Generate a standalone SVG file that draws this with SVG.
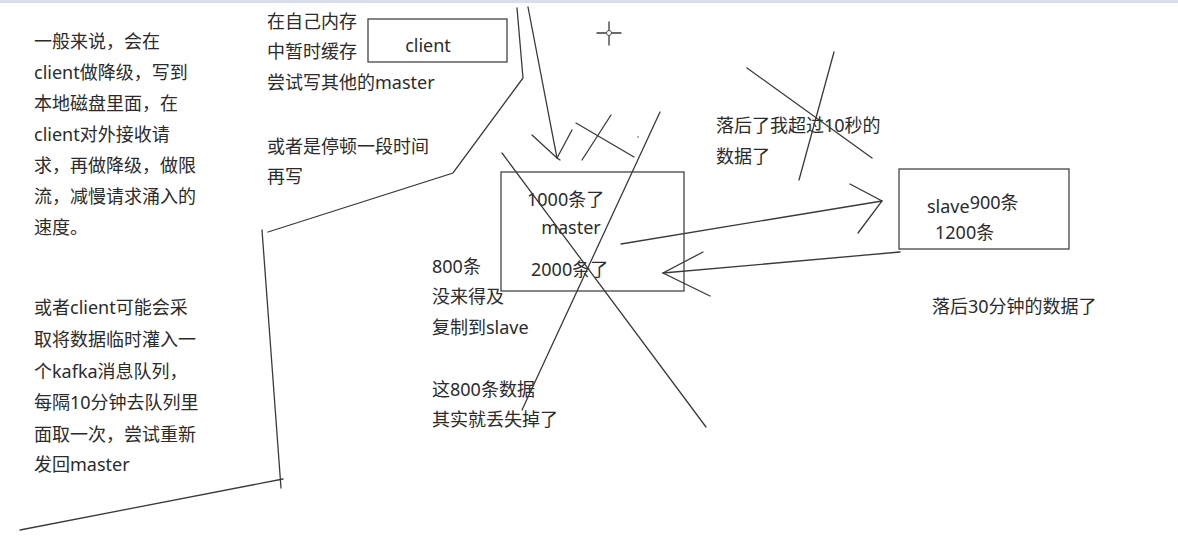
<svg xmlns="http://www.w3.org/2000/svg" width="1178" height="555" viewBox="0 0 1178 555">
<style>
text{font-family:"Noto Sans","Noto Sans CJK SC",sans-serif;font-size:18px;fill:#2b2b2b}
.ln{stroke:#3a3a3a;stroke-width:1.3;fill:none;stroke-linecap:round}
.box{stroke:#444;stroke-width:1.3;fill:none}
</style>
<rect x="0" y="0" width="1178" height="555" fill="#fff"/>
<rect x="0" y="0" width="1178" height="3" fill="#d9dfe8"/>

<g id="note-left-1">
<text x="34" y="48">一般来说，会在</text>
<text x="34" y="79">client做降级，写到</text>
<text x="34" y="110">本地磁盘里面，在</text>
<text x="34" y="141">client对外接收请</text>
<text x="34" y="172">求，再做降级，做限</text>
<text x="34" y="203">流，减慢请求涌入的</text>
<text x="34" y="234">速度。</text>
</g>
<g id="note-left-2">
<text x="34" y="314">或者client可能会采</text>
<text x="34" y="346">取将数据临时灌入一</text>
<text x="34" y="378">个kafka消息队列，</text>
<text x="34" y="409">每隔10分钟去队列里</text>
<text x="34" y="441">面取一次，尝试重新</text>
<text x="34" y="471">发回master</text>
</g>
<g id="note-client">
<text x="267" y="28">在自己内存</text>
<text x="267" y="58">中暂时缓存</text>
<text x="267" y="89">尝试写其他的master</text>
<text x="267" y="153">或者是停顿一段时间</text>
<text x="267" y="183">再写</text>
</g>

<g id="client">
<rect class="box" x="368" y="19" width="139" height="43"/>
<text x="428" y="52" text-anchor="middle">client</text>
</g>

<g id="master">
<rect class="box" x="501" y="172" width="183" height="119"/>
<text x="527" y="206">1000条了</text>
<text x="571" y="234" text-anchor="middle">master</text>
<text x="531" y="276">2000条了</text>
</g>

<g id="slave">
<rect class="box" x="899" y="169" width="170" height="80"/>
<text x="927" y="213">slave<tspan dy="-4">900条</tspan></text>
<text x="935" y="239">1200条</text>
</g>

<g id="note-master">
<text x="432" y="273">800条</text>
<text x="432" y="303">没来得及</text>
<text x="432" y="334">复制到slave</text>
<text x="432" y="396">这800条数据</text>
<text x="432" y="426">其实就丢失掉了</text>
</g>
<g id="note-slave">
<text x="716" y="132">落后了我超过10秒的</text>
<text x="716" y="163">数据了</text>
<text x="932" y="313">落后30分钟的数据了</text>
</g>

<g id="connectors">
<polyline class="ln" points="268,232 453,173 523,78 517,8"/>
<polyline class="ln" points="528,7 557,158 560,160"/>
<polyline class="ln" points="532,135 557,158 572,130"/>
<line class="ln" x1="576" y1="123" x2="634" y2="157"/>
<line class="ln" x1="611" y1="115" x2="582" y2="160"/>
<line class="ln" x1="660" y1="112" x2="522" y2="410"/>
<line class="ln" x1="502" y1="153" x2="706" y2="427"/>
<line class="ln" x1="262" y1="230" x2="281" y2="488"/>
<line class="ln" x1="20" y1="530" x2="283" y2="479"/>
<line class="ln" x1="621" y1="244" x2="882" y2="201"/>
<polyline class="ln" points="850,184 882,201 858,233"/>
<line class="ln" x1="900" y1="252" x2="663" y2="273"/>
<polyline class="ln" points="703,252 663,273 710,296"/>
<line class="ln" x1="747" y1="68" x2="872" y2="158"/>
<line class="ln" x1="834" y1="52" x2="799" y2="180"/>
</g>

<g id="cursor">
<circle cx="609" cy="33" r="2.5" fill="none" stroke="#555" stroke-width="1"/>
<line class="ln" x1="597" y1="33" x2="606" y2="33"/>
<line class="ln" x1="612" y1="33" x2="621" y2="33"/>
<line class="ln" x1="609" y1="22" x2="609" y2="30"/>
<line class="ln" x1="609" y1="36" x2="609" y2="45"/>
<circle cx="638" cy="137" r="0.8" fill="#555"/>
</g>
</svg>
